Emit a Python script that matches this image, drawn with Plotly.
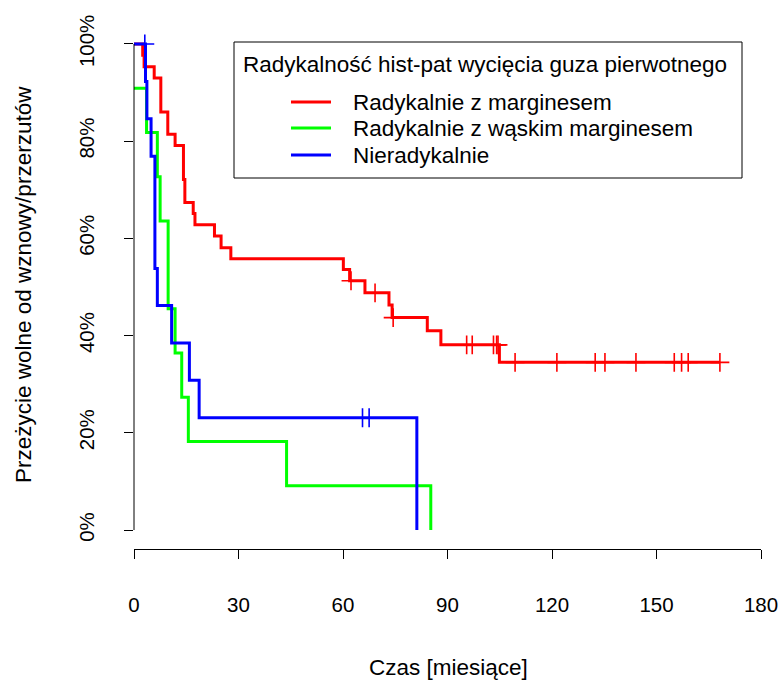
import plotly.graph_objects as go

# ---------------- data ----------------
red_times = [0, 2.5, 2.9, 5.8, 7.7, 9.7, 11.8, 14.2, 14.6, 17.0, 17.5, 23.1, 25.0, 27.8,
             60.1, 61.9, 66.3, 73.2, 74.1, 84.2, 88.1, 104.9]
red_surv = [1.0, 0.977, 0.953, 0.930, 0.860, 0.814, 0.791, 0.721, 0.674, 0.651, 0.628,
            0.605, 0.581, 0.558, 0.536, 0.513, 0.488, 0.463, 0.437, 0.410, 0.381, 0.345]
red_censor = [62.3, 69.2, 74.4, 95.5, 97.1, 103.2, 104.1, 104.5, 109.4, 121.4, 132.4,
              135.2, 144.1, 155.1, 157.2, 159.1, 168.2]

green_times = [0, 3.6, 6.7, 7.5, 9.8, 11.8, 13.7, 15.6, 43.8, 85.2]
green_surv = [0.909, 0.818, 0.727, 0.636, 0.455, 0.364, 0.273, 0.182, 0.091, 0.0]
green_censor = []

blue_times = [0, 3.3, 3.7, 4.9, 6.0, 6.7, 10.8, 15.9, 18.7, 81.2]
blue_surv = [1.0, 0.923, 0.846, 0.769, 0.538, 0.462, 0.385, 0.308, 0.231, 0.0]
blue_censor = [3.1, 65.6, 67.5]

series_names = ["Radykalnie z marginesem", "Radykalnie z wąskim marginesem", "Nieradykalnie"]
series_colors = ["#FF0000", "#00FF00", "#0000FF"]
legend_title = "Radykalność hist-pat wycięcia guza pierwotnego"
x_title = "Czas [miesiące]"
y_title = "Przeżycie wolne od wznowy/przerzutów"
x_ticks = [0, 30, 60, 90, 120, 150, 180]
y_ticks = [0, 0.2, 0.4, 0.6, 0.8, 1.0]

# ---------------- helpers ----------------
W, H = 779, 682
ML, MR, MT, MB = 134, 18, 25, 133
PW, PH = W - ML - MR, H - MT - MB
FONT = "Liberation Sans, Arial, sans-serif"


def step_value(times, surv, t):
    v = surv[0]
    for ti, si in zip(times, surv):
        if ti <= t:
            v = si
    return v


def px2x(px):
    return (px - ML) / PW


def px2y(py):
    return (H - MB - py) / PH


fig = go.Figure()

groups = [
    (red_times, red_surv, red_censor),
    (green_times, green_surv, green_censor),
    (blue_times, blue_surv, blue_censor),
]

for (times, surv, cens), name, col in zip(groups, series_names, series_colors):
    xs = list(times)
    ys = list(surv)
    if cens and max(cens) > xs[-1]:
        xs.append(max(cens))
        ys.append(surv[-1])
    fig.add_trace(go.Scatter(
        x=xs, y=ys, mode="lines", line=dict(color=col, width=3, shape="hv"),
        name=name, showlegend=False, hoverinfo="skip"))
    if cens:
        fig.add_trace(go.Scatter(
            x=cens, y=[step_value(times, surv, t) for t in cens], mode="markers",
            marker=dict(symbol="cross-thin", size=13.5, color=col,
                        line=dict(color=col, width=1.6)),
            showlegend=False, hoverinfo="skip"))

# y axis line only over 0..1 (as in R)
fig.add_shape(type="line", xref="paper", yref="y", x0=0, x1=0, y0=0, y1=1,
              line=dict(color="black", width=1))

# manual legend (R-style box)
shapes = []
annotations = []
bx0, bx1, by0, by1 = 234, 742, 42, 178
fig.add_shape(type="rect", xref="paper", yref="paper",
              x0=px2x(bx0), x1=px2x(bx1), y0=px2y(by1), y1=px2y(by0),
              line=dict(color="black", width=1), fillcolor="white", layer="above")
annotations.append(dict(text=legend_title, xref="paper", yref="paper",
                        x=px2x(241), y=px2y(64), xanchor="left", yanchor="middle",
                        showarrow=False, font=dict(size=22.5, color="black", family=FONT)))
item_y = [102, 128, 155]
for yy, name, col in zip(item_y, series_names, series_colors):
    fig.add_shape(type="line", xref="paper", yref="paper",
                  x0=px2x(291), x1=px2x(331), y0=px2y(yy), y1=px2y(yy),
                  line=dict(color=col, width=3), layer="above")
    annotations.append(dict(text=name, xref="paper", yref="paper",
                            x=px2x(351), y=px2y(yy), xanchor="left", yanchor="middle",
                            showarrow=False, font=dict(size=22.5, color="black", family=FONT)))

# axis titles
annotations.append(dict(text=x_title, xref="paper", yref="paper",
                        x=px2x(448), y=px2y(667), xanchor="center", yanchor="middle",
                        showarrow=False, font=dict(size=22.5, color="black", family=FONT)))
annotations.append(dict(text=y_title, xref="paper", yref="paper",
                        x=px2x(23), y=px2y(285), xanchor="center", yanchor="middle",
                        textangle=-90, showarrow=False,
                        font=dict(size=22.5, color="black", family=FONT)))

fig.update_layout(
    width=W, height=H,
    margin=dict(l=ML, r=MR, t=MT, b=MB, autoexpand=False),
    paper_bgcolor="white", plot_bgcolor="white",
    font=dict(family=FONT, color="black"),
    annotations=annotations,
    showlegend=False,
)
fig.update_xaxes(
    range=[0, 180], tickvals=x_ticks, ticks="outside", ticklen=9, tickwidth=1,
    tickcolor="black", showline=True, linecolor="black", linewidth=1,
    showgrid=False, zeroline=False, tickfont=dict(size=20.5, color="black"),
    ticklabelstandoff=28,
)
fig.update_yaxes(
    range=[-0.039, 1.039], tickvals=y_ticks, tickformat=".0%", ticks="outside",
    ticklen=9, tickwidth=1, tickcolor="black", showline=False,
    showgrid=False, zeroline=False, tickangle=-90,
    tickfont=dict(size=20.5, color="black"), ticklabelstandoff=22,
)

fig.write_html("out.html")
